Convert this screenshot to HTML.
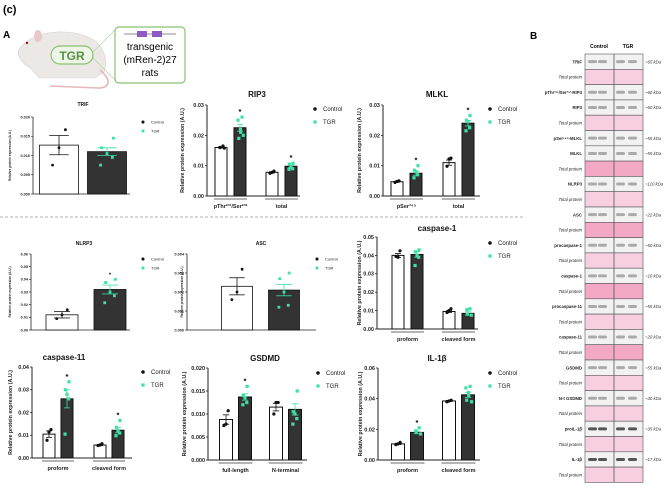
<!DOCTYPE html>
<html><head><meta charset="utf-8">
<style>
body{margin:0;background:#fff;width:670px;height:488px;overflow:hidden;font-family:"Liberation Sans",sans-serif}
svg{display:block}
text{font-family:"Liberation Sans",sans-serif}
</style></head>
<body>
<svg id="fig" width="670" height="488" viewBox="0 0 670 488">
<text x="3" y="13" font-size="11" font-weight="bold">(c)</text>
<text x="3" y="38" font-size="10" font-weight="bold">A</text>
<text x="530" y="39" font-size="10" font-weight="bold">B</text>
<g>
<path d="M22,46 C35,30 70,28 90,38 C105,45 108,62 104,72 L95,78 L40,78 L30,68 C20,62 14,52 22,46 Z" fill="#ebe8e6" stroke="#d8d2d0" stroke-width="0.6"/>
<ellipse cx="38" cy="36" rx="4" ry="6" fill="#e8c9c9"/>
<circle cx="27" cy="43" r="1.2" fill="#a11"/>
<path d="M100,70 C112,80 110,88 98,88 L50,86" fill="none" stroke="#e2b8b8" stroke-width="1.6"/>
<rect x="51" y="46" width="42" height="18" rx="9" fill="#edf5e6" stroke="#8bc16e" stroke-width="1.2"/>
<text x="72" y="60" font-size="12" font-weight="bold" fill="#5b8f45" text-anchor="middle">TGR</text>
<line x1="93" y1="52" x2="115" y2="30" stroke="#b5d8a3" stroke-width="0.7"/>
<line x1="93" y1="58" x2="115" y2="80" stroke="#b5d8a3" stroke-width="0.7"/>
<rect x="115" y="27" width="70" height="56" rx="4" fill="#fff" stroke="#8bc16e" stroke-width="1.2"/>
<line x1="124" y1="34" x2="176" y2="34" stroke="#666" stroke-width="0.8"/>
<rect x="137" y="31" width="10" height="6" fill="#8e5bc5"/><rect x="152" y="31" width="10" height="6" fill="#8e5bc5"/>
<text x="150" y="50" font-size="10" text-anchor="middle">transgenic</text>
<text x="150" y="63" font-size="10" text-anchor="middle">(mRen-2)27</text>
<text x="150" y="76" font-size="10" text-anchor="middle">rats</text>
</g>
<line x1="0" y1="217" x2="525" y2="217" stroke="#999" stroke-width="0.8" stroke-dasharray="3,2"/>
<g id="charts"></g>
<g id="blots"></g>
</svg>
<script>
// ---- chart data ----
const trifTicks=['0.000','0.005','0.010','0.015','0.020'];
const trifControl=[0.0127];const trifControlErr=[0.0025];const trifControlPts=[[0.0167,0.012,0.0075]];
const trifTGR=[0.011];const trifTGRErr=[0.001];const trifTGRPts=[[0.0145,0.012,0.0105,0.0095,0.0075]];
const rip3Categories=['pThr²³¹/Ser²³²','total'];const rip3Ticks=['0.00','0.01','0.02','0.03'];
const rip3Control=[0.016,0.0078];const rip3ControlPts=[[0.0165,0.016,0.016,0.0158],[0.0082,0.0078,0.0075]];
const rip3TGR=[0.0225,0.0098];const rip3TGRPts=[[0.026,0.025,0.022,0.021,0.019,0.02],[0.0108,0.0105,0.0095,0.009,0.0088]];
const mlklCategories=['pSer³⁴⁵','total'];const mlklTicks=['0.00','0.01','0.02','0.03'];
const mlklControl=[0.0047,0.011];const mlklControlPts=[[0.005,0.0048,0.0045],[0.0125,0.0122,0.0098]];
const mlklTGR=[0.0075,0.024];const mlklTGRPts=[[0.01,0.0085,0.008,0.007,0.006],[0.0265,0.025,0.0245,0.0225,0.0215]];
const nlrp3Ticks=['0.00','0.01','0.02','0.03','0.04','0.05','0.06'];
const nlrp3Control=[0.012];const nlrp3ControlErr=[0.0025];const nlrp3ControlPts=[[0.016,0.012,0.009]];
const nlrp3TGR=[0.032];const nlrp3TGRErr=[0.0035];const nlrp3TGRPts=[[0.04,0.0375,0.03,0.027,0.0215]];
const ascTicks=['0.000','0.001','0.002','0.003','0.004'];
const ascControl=[0.0023];const ascControlErr=[0.00045];const ascControlPts=[[0.0032,0.002,0.0016]];
const ascTGR=[0.0021];const ascTGRErr=[0.0003];const ascTGRPts=[[0.003,0.0027,0.002,0.0013,0.0012]];
const casp1Categories=['proform','cleaved form'];const casp1Ticks=['0.00','0.01','0.02','0.03','0.04','0.05'];
const casp1Control=[0.040,0.0095];const casp1ControlPts=[[0.0425,0.039,0.0395],[0.011,0.01,0.009]];
const casp1TGR=[0.0405,0.0085];const casp1TGRPts=[[0.043,0.042,0.04,0.039,0.0345],[0.011,0.0105,0.008,0.0075]];
const casp11Categories=['proform','cleaved form'];const casp11Ticks=['0.00','0.01','0.02','0.03','0.04'];
const casp11Control=[0.0105,0.0057];const casp11ControlPts=[[0.0125,0.0115,0.0078],[0.0063,0.0057,0.0055]];
const casp11TGR=[0.026,0.0122];const casp11TGRPts=[[0.0335,0.03,0.028,0.026,0.0105],[0.0165,0.0135,0.012,0.011,0.0098]];
const gsdmdCategories=['full-length','N-terminal'];const gsdmdTicks=['0.000','0.005','0.010','0.015','0.020'];
const gsdmdControl=[0.0088,0.0115];const gsdmdControlPts=[[0.0107,0.0078,0.0075],[0.0125,0.0125,0.01]];
const gsdmdTGR=[0.0137,0.011];const gsdmdTGRPts=[[0.016,0.014,0.0135,0.0125,0.012],[0.015,0.0105,0.01,0.009,0.0078]];
const il1bCategories=['proform','cleaved form'];const il1bTicks=['0.00','0.02','0.04','0.06'];
const il1bControl=[0.0105,0.0385];const il1bControlPts=[[0.0115,0.0105,0.01],[0.039,0.0385,0.038]];
const il1bTGR=[0.018,0.0425];const il1bTGRPts=[[0.021,0.019,0.018,0.017],[0.048,0.047,0.044,0.042,0.039,0.038]];

const NS='http://www.w3.org/2000/svg';
function mk(tag,attrs,parent,txt){const e=document.createElementNS(NS,tag);for(const k in attrs)e.setAttribute(k,attrs[k]);if(txt!==undefined)e.textContent=txt;parent.appendChild(e);return e;}
function sd(arr){const m=arr.reduce((a,b)=>a+b,0)/arr.length;return Math.sqrt(arr.reduce((a,b)=>a+(b-m)*(b-m),0)/(arr.length-1))/Math.sqrt(arr.length);}
const root=document.getElementById('charts');

function chart(c){
  const g=mk('g',{},root);
  
  
  const ymax=parseFloat(c.ticks[c.ticks.length-1]);
  const Y=v=>c.y0-v/ymax*(c.y0-c.yt);
  const nG=c.control.length;
  const X=(gi,si)=>c.ax+c.off+gi*c.gs+si*c.bs;
  // axes
  const ya=mk('line',{x1:c.ax,y1:c.yt,x2:c.ax,y2:c.y0,stroke:'#222','stroke-width':c.lw},g);
  
  const xa=mk('line',{x1:c.ax,y1:c.y0,x2:c.xe,y2:c.y0,stroke:'#222','stroke-width':c.lw},g);
  
  c.ticks.forEach(t=>{const v=parseFloat(t);const y=Y(v);
    mk('line',{x1:c.ax-2,y1:y,x2:c.ax,y2:y,stroke:'#222','stroke-width':c.lw*0.8},g);
    const tl=mk('text',{x:c.ax-3,y:y+c.tf*0.35,'font-size':c.tf,'font-weight':'bold','text-anchor':'end',fill:'#222'},g,t);
    });
  const yl=mk('text',{x:0,y:0,'font-size':c.lf,'font-weight':'bold','text-anchor':'middle',fill:'#222',transform:`translate(${c.ylx},${(c.yt+c.y0)/2}) rotate(-90)`},g,'Relative protein expression (A.U.)');
  
  const ti=mk('text',{x:c.tx,y:c.ty,'font-size':c.titf,'font-weight':'bold','text-anchor':'middle',fill:'#111'},g,c.title);
  
  for(let gi=0;gi<nG;gi++){
    [[c.control,c.cpts,c.cerr,'#fff','#111','circle'],[c.tgr,c.tpts,c.terr,'#333','#3ee0a4','square']].forEach((s,si)=>{
      const cx=X(gi,si);const v=s[0][gi];
      const b=mk('rect',{x:cx-c.bw/2,y:Y(v),width:c.bw,height:c.y0-Y(v),fill:s[3],stroke:'#111','stroke-width':c.lw},g);
      
      const pts=s[1][gi];const e=s[2]?s[2][gi]:sd(pts);
      const ec=si?'#3ee0a4':'#111';
      mk('line',{x1:cx,y1:Y(v-e),x2:cx,y2:Y(v+e),stroke:ec,'stroke-width':0.8},g);
      mk('line',{x1:cx-c.bw*0.25,y1:Y(v+e),x2:cx+c.bw*0.25,y2:Y(v+e),stroke:ec,'stroke-width':0.8},g);
      mk('line',{x1:cx-c.bw*0.25,y1:Y(v-e),x2:cx+c.bw*0.25,y2:Y(v-e),stroke:ec,'stroke-width':0.8},g);
      pts.forEach((p,i)=>{const jx=cx+(pts.length>1?(i/(pts.length-1)-0.5)*c.bw*0.55*((i%2)?1:-0.6):0);
        let m;
        if(si) m=mk('rect',{x:jx-c.ps,y:Y(p)-c.ps,width:c.ps*2,height:c.ps*2,fill:'#3ee0a4'},g);
        else m=mk('circle',{cx:jx,cy:Y(p),r:c.ps,fill:'#111'},g);
        });
    });
    if(c.stars&&c.stars[gi]){const top=Math.max(...c.tpts[gi]);
      const st=mk('text',{x:X(gi,1),y:Y(top)-3,'font-size':c.tf+2,'font-weight':'bold','text-anchor':'middle'},g,'*');
      }
    if(c.cats){const x1=X(gi,0)-c.bw/2-1,x2=X(gi,1)+c.bw/2+1;
      mk('line',{x1:x1,y1:c.y0+3,x2:x2,y2:c.y0+3,stroke:'#888','stroke-width':1.2},g);
      const cl=mk('text',{x:(x1+x2)/2,y:c.y0+12,'font-size':c.tf,'font-weight':'bold','text-anchor':'middle',fill:'#222'},g,c.cats[gi]);
      }
  }
  const lg=mk('g',{},g);
  mk('circle',{cx:c.lx,cy:c.ly,r:c.ps*1.1,fill:'#111'},lg);
  mk('text',{x:c.lx+8,y:c.ly+c.lgf*0.35,'font-size':c.lgf,fill:'#222'},lg,'Control');
  mk('rect',{x:c.lx-c.ps,y:c.ly+c.ld-c.ps,width:c.ps*2,height:c.ps*2,fill:'#3ee0a4'},lg);
  mk('text',{x:c.lx+8,y:c.ly+c.ld+c.lgf*0.35,'font-size':c.lgf,fill:'#222'},lg,'TGR');
}
const small={tf:3.8,lf:3.2,titf:5,lgf:4,ps:1.4,lw:0.8,ld:9};
const big={tf:5.5,lf:5.3,titf:8,lgf:6,ps:1.6,lw:1,ld:13};
chart(Object.assign({},small,{name:'trif',title:'TRIF',ticks:trifTicks,control:trifControl,cerr:trifControlErr,cpts:trifControlPts,tgr:trifTGR,terr:trifTGRErr,tpts:trifTGRPts,ax:33,xe:130,yt:117,y0:194,off:26,gs:0,bs:48,bw:39,ylx:11,tx:83,ty:106,lx:143,ly:122}));
chart(Object.assign({},big,{name:'rip3',title:'RIP3',ticks:rip3Ticks,cats:rip3Categories,stars:[1,1],control:rip3Control,cpts:rip3ControlPts,tgr:rip3TGR,tpts:rip3TGRPts,ax:207,xe:300,yt:105,y0:196,off:14,gs:51,bs:19,bw:12,ylx:184,tx:257,ty:97,lx:315,ly:109}));
chart(Object.assign({},big,{name:'mlkl',title:'MLKL',ticks:mlklTicks,cats:mlklCategories,stars:[1,1],control:mlklControl,cpts:mlklControlPts,tgr:mlklTGR,tpts:mlklTGRPts,ax:383,xe:480,yt:105,y0:196,off:14,gs:52,bs:19,bw:12,ylx:361,tx:437,ty:97,lx:490,ly:109}));
chart(Object.assign({},small,{name:'nlrp3',title:'NLRP3',ticks:nlrp3Ticks,stars:[1],control:nlrp3Control,cerr:nlrp3ControlErr,cpts:nlrp3ControlPts,tgr:nlrp3TGR,terr:nlrp3TGRErr,tpts:nlrp3TGRPts,ax:31,xe:130,yt:254,y0:330,off:31,gs:0,bs:48,bw:32,ylx:11,tx:84,ty:245,lx:143,ly:259}));
chart(Object.assign({},small,{name:'asc',title:'ASC',ticks:ascTicks,control:ascControl,cerr:ascControlErr,cpts:ascControlPts,tgr:ascTGR,terr:ascTGRErr,tpts:ascTGRPts,ax:187,xe:316,yt:254,y0:330,off:50,gs:0,bs:47,bw:31,ylx:183,tx:261,ty:245,lx:317,ly:259}));
chart(Object.assign({},big,{name:'caspase-1',title:'caspase-1',ticks:casp1Ticks,cats:casp1Categories,control:casp1Control,cpts:casp1ControlPts,tgr:casp1TGR,tpts:casp1TGRPts,ax:377,xe:478,yt:237,y0:329,off:21,gs:51,bs:19,bw:12,ylx:361,tx:437,ty:231,lx:490,ly:243}));
chart(Object.assign({},big,{name:'caspase-11',title:'caspase-11',ticks:casp11Ticks,cats:casp11Categories,stars:[1,1],control:casp11Control,cpts:casp11ControlPts,tgr:casp11TGR,tpts:casp11TGRPts,ax:32,xe:132,yt:367,y0:458,off:17,gs:51,bs:18,bw:12,ylx:12,tx:64,ty:360,lx:143,ly:372}));
chart(Object.assign({},big,{name:'gsdmd',title:'GSDMD',ticks:gsdmdTicks,cats:gsdmdCategories,stars:[1,0],control:gsdmdControl,cpts:gsdmdControlPts,tgr:gsdmdTGR,tpts:gsdmdTGRPts,ax:208,xe:307,yt:368,y0:460,off:18,gs:50,bs:19,bw:13,ylx:186,tx:265,ty:361,lx:318,ly:373}));
chart(Object.assign({},big,{name:'il-1b',title:'IL-1β',ticks:il1bTicks,cats:il1bCategories,stars:[1,0],control:il1bControl,cpts:il1bControlPts,tgr:il1bTGR,tpts:il1bTGRPts,ax:378,xe:480,yt:368,y0:460,off:20,gs:51,bs:19,bw:13,ylx:362,tx:437,ty:361,lx:490,ly:373}));

// ---- blots ----
const blotLabels=['TRIF','Total protein','pThr²³¹/Ser²³²-RIP3','RIP3','Total protein','pSer³⁴⁵-MLKL','MLKL','Total protein','NLRP3','Total protein','ASC','Total protein','procaspase-1','Total protein','caspase-1','Total protein','procaspase-11','Total protein','caspase-11','Total protein','GSDMD','Total protein','N-t GSDMD','Total protein','proIL-1β','Total protein','IL-1β','Total protein'];
const blotKda=['~65 kDa','','~60 kDa','~60 kDa','','~55 kDa','~55 kDa','','~110 kDa','','~22 kDa','','~50 kDa','','~10 kDa','','~55 kDa','','~20 kDa','','~55 kDa','','~30 kDa','','~35 kDa','','~17 kDa',''];
const strongPink=[7,11,15,19];
const B=document.getElementById('blots');
let t=mk('text',{x:599,y:48,'font-size':5,'font-weight':'bold','text-anchor':'middle'},B,'Control');

t=mk('text',{x:628,y:48,'font-size':5,'font-weight':'bold','text-anchor':'middle'},B,'TGR');

const top0=54,rh=15.3;
blotLabels.forEach((lab,i)=>{
  const y=top0+i*rh;const pink=lab==='Total protein';
  const r=mk('g',{},B);
  
  
  const fill=pink?(strongPink.includes(i)?'#f3a9c6':'#f8cfe0'):'#f2f2f2';
  mk('rect',{x:585,y:y,width:58,height:rh,fill:fill,stroke:'#555','stroke-width':0.6},r);
  mk('line',{x1:614,y1:y,x2:614,y2:y+rh,stroke:'#555','stroke-width':0.8},r);
  if(!pink){[592,602,620,632].forEach(bx=>mk('rect',{x:bx-4,y:y+rh/2-1.5,width:9,height:3,rx:1.5,fill:i>=24?'#555':'#aaa'},r));}
  mk('text',{x:582,y:y+rh/2+1.6,'font-size':4.3,'font-weight':pink?'normal':'bold','font-style':pink?'italic':'normal','text-anchor':'end',fill:'#222'},r,lab);
  if(blotKda[i])mk('text',{x:645,y:y+rh/2+1.6,'font-size':4.3,'font-style':'italic',fill:'#333'},r,blotKda[i]);
});
</script>
</body></html>
